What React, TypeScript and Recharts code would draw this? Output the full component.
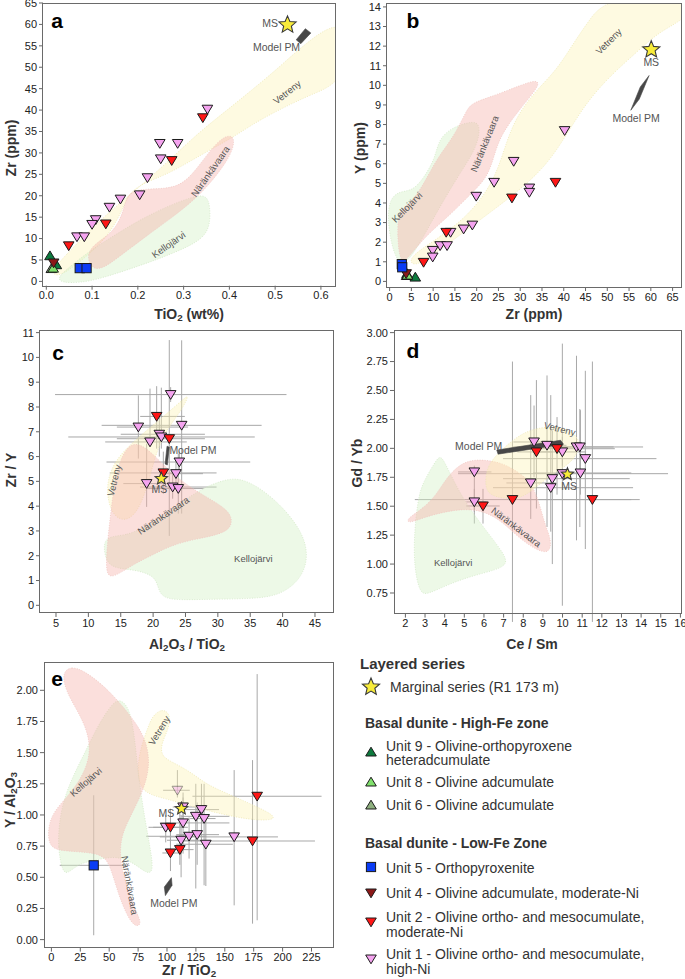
import React from 'react';
import { ScatterChart, Scatter, XAxis, YAxis, ErrorBar, Curve } from 'recharts';

type Pt = [number, number];
type Err = [number, number, number, number, number, number]; // x, y, xLow, xHigh, yLow, yHigh
type Lbl = [number, number, string, number]; // x, y, text, angle

const FONT = '"Liberation Sans", Arial, Helvetica, sans-serif';

// ---------- a : TiO2 vs Zr ----------
const aTicksX = [0, 0.1, 0.2, 0.3, 0.4, 0.5, 0.6];
const aTicksY = [0, 5, 10, 15, 20, 25, 30, 35, 40, 45, 50, 55, 60, 65];
const aUnit1: Pt[] = [[0.352, 40.2], [0.248, 32.2], [0.287, 32.2], [0.25, 28.6], [0.221, 24.2], [0.204, 20.2], [0.162, 19.2], [0.138, 17.3], [0.108, 14.4], [0.1, 13.3], [0.067, 10.4], [0.083, 10.4]];
const aUnit2: Pt[] = [[0.342, 38.2], [0.274, 28.2], [0.13, 13.4], [0.049, 8.3]];
const aUnit4: Pt[] = [[0.016, 4.3]];
const aUnit5: Pt[] = [[0.073, 3.1], [0.088, 3.1]];
const aUnit6: Pt[] = [[0.011, 3.0]];
const aUnit8: Pt[] = [[0.015, 3.1]];
const aUnit9: Pt[] = [[0.008, 6.0], [0.022, 3.9]];
const aMS: Pt[] = [[0.527, 59.9]];
const aModel: Pt[] = [[0.546, 56.4], [0.566, 59.0], [0.578, 58.0], [0.556, 55.5]];
const aKello: Pt[] = [[0.023, 0.8], [0.052, 3.5], [0.096, 7.2], [0.154, 11.1], [0.205, 14.4], [0.264, 17.5], [0.315, 19.6], [0.35, 20.4], [0.358, 17.5], [0.358, 12.8], [0.338, 9.4], [0.264, 6.0], [0.205, 3.7], [0.118, 0.6], [0.074, -0.3], [0.034, -0.3]];
const aNaran: Pt[] = [[0.098, 3.0], [0.088, 6.2], [0.105, 8.8], [0.147, 11.5], [0.168, 16.0], [0.176, 20.5], [0.205, 21.6], [0.264, 21.6], [0.299, 22.8], [0.329, 26.3], [0.358, 30.6], [0.386, 33.8], [0.41, 34.2], [0.41, 31.3], [0.391, 27.4], [0.358, 22.9], [0.322, 18.9], [0.271, 14.6], [0.22, 10.7], [0.162, 6.0], [0.122, 2.8]];
const aVetreny: Pt[] = [[0.007, 2.0], [0.045, 6.4], [0.092, 11.6], [0.14, 16.4], [0.187, 20.6], [0.235, 25.0], [0.286, 30.0], [0.336, 35.0], [0.395, 40.0], [0.453, 45.0], [0.511, 50.2], [0.57, 56.0], [0.66, 62.5], [0.66, 47.0], [0.577, 43.6], [0.519, 40.6], [0.468, 37.8], [0.424, 34.8], [0.4, 33.2], [0.366, 31.2], [0.315, 28.1], [0.264, 25.0], [0.213, 23.0], [0.18, 20.6], [0.165, 16.5], [0.143, 12.0], [0.111, 8.0], [0.067, 4.0], [0.027, 1.0]];
const aLabels: Lbl[] = [[0.526, 44.2, 'Vetreny', -38], [0.358, 25.7, 'Näränkävaara', -55], [0.267, 8.6, 'Kellojärvi', -35]];
const aNotes: Lbl[] = [[0.489, 60.2, 'MS', 0], [0.503, 54.5, 'Model PM', 0]];

// ---------- b : Zr vs Y ----------
const bTicksX = [0, 5, 10, 15, 20, 25, 30, 35, 40, 45, 50, 55, 60, 65];
const bTicksY = [0, 1, 2, 3, 4, 5, 6, 7, 8, 9, 10, 11, 12, 13, 14];
const bUnit1: Pt[] = [[40.2, 7.69], [28.5, 6.12], [24.0, 5.05], [32.1, 4.76], [32.1, 4.54], [19.9, 4.34], [19.0, 2.87], [17.0, 2.67], [14.0, 2.5], [11.6, 1.82], [13.2, 1.82], [9.9, 1.58], [9.9, 1.24]];
const bUnit2: Pt[] = [[38.1, 5.05], [28.1, 4.25], [13.0, 2.5], [7.8, 0.97]];
const bUnit4: Pt[] = [[3.8, 0.39]];
const bUnit5: Pt[] = [[2.8, 0.88], [2.9, 0.72]];
const bUnit6: Pt[] = [[3.9, 0.3]];
const bUnit8: Pt[] = [[4.1, 0.32]];
const bUnit9: Pt[] = [[5.9, 0.22], [4.0, 0.4]];
const bMS: Pt[] = [[60.1, 11.82]];
const bModel: Pt[] = [[55.4, 8.73], [57.58, 9.92], [59.6, 10.5], [57.35, 9.3]];
const bKello: Pt[] = [[2.07, 0.6], [-0.3, 2.47], [-0.4, 4.1], [2.07, 4.6], [5.13, 4.6], [7.81, 5.25], [10.49, 6.3], [11.26, 7.25], [14.32, 7.85], [18.53, 8.15], [20.9, 8.1], [20.3, 6.89], [15.47, 5.3], [10.1, 3.25], [5.51, 1.35]];
const bNaran: Pt[] = [[2.45, 0.75], [1.7, 2.47], [2.1, 3.6], [3.98, 3.85], [7.04, 4.6], [10.87, 6.3], [14.7, 7.35], [17.6, 8.7], [18.9, 9.1], [23.12, 9.4], [30.02, 10.0], [33.9, 10.3], [34.5, 10.0], [30.1, 8.85], [25.42, 7.45], [23.9, 6.3], [22.36, 5.3], [19.3, 4.6], [13.94, 3.4], [8.58, 2.38], [4.75, 1.35]];
const bVetreny: Pt[] = [[3.98, 1.2], [11.64, 2.25], [19.3, 3.6], [24.5, 5.36], [26.95, 7.23], [29.63, 8.59], [33.84, 9.78], [38.44, 10.8], [42.27, 12.16], [45.94, 13.35], [49.54, 14.4], [70, 15.2], [70, 13.6], [62.17, 12.8], [56.82, 11.7], [50.69, 10.5], [45.33, 9.15], [41.5, 7.8], [37.67, 6.45], [33.84, 5.45], [28.48, 4.42], [22.36, 3.4], [16.23, 2.38], [10.1, 1.36], [5.51, 0.7]];
const bLabels: Lbl[] = [[50.3, 12.25, 'Vetreny', -45], [21.8, 7.02, 'Näränkävaara', -68], [3.98, 3.79, 'Kellojärvi', -45]];
const bNotes: Lbl[] = [[60.1, 11.18, 'MS', 0], [56.6, 8.33, 'Model PM', 0]];

// ---------- c : Al2O3/TiO2 vs Zr/Y ----------
const cTicksX = [5, 10, 15, 20, 25, 30, 35, 40, 45];
const cTicksY = [0, 1, 2, 3, 4, 5, 6, 7, 8, 9, 10, 11];
const cUnit1: Err[] = [
  [22.71, 8.5, 4.85, 40.6, 8.2, 8.8], [24.41, 7.26, 12.05, 36.76, 3.7, 10.69], [17.72, 7.19, 14.4, 25.4, 5.92, 8.47],
  [20.96, 6.9, 15.0, 28.0, 6.0, 7.6], [21.27, 6.79, 6.9, 35.7, 6.32, 8.78], [19.52, 6.59, 12.6, 25.2, 6.39, 8.74],
  [24.05, 5.78, 12.8, 35.0, 5.3, 6.2], [23.53, 5.31, 21.3, 27.7, 4.8, 5.9], [19.0, 4.91, 15.4, 22.6, 3.97, 6.52],
  [23.02, 4.77, 17.97, 29.8, 4.3, 5.3], [23.89, 4.71, 19.0, 27.8, 3.7, 6.12],
];
const cUnit2: Err[] = [[20.55, 7.62, 18.0, 24.9, 6.32, 8.84], [22.5, 6.72, 14.4, 28.0, 2.8, 10.7], [21.58, 5.34, 13.3, 29.8, 4.5, 6.2]];
const cMS: Pt[] = [[21.27, 5.11]];
const cModel: Pt[] = [[22.15, 6.42], [22.5, 6.38], [22.2, 5.66], [21.85, 5.7]];
const cVetreny: Pt[] = [[25.6, 8.5], [24.41, 7.87], [22.35, 7.19], [20.55, 6.25], [19.52, 5.18], [17.97, 3.9], [15.91, 3.35], [13.7, 3.6], [12.7, 4.57], [13.4, 5.5], [15.3, 6.2], [18.49, 6.95], [22.09, 7.72], [24.8, 8.35]];
const cNaran: Pt[] = [[12.7, 1.1], [12.8, 2.22], [13.5, 3.83], [14.25, 5.4], [15.6, 6.25], [16.94, 6.55], [18.6, 6.42], [20.55, 5.95], [23.12, 5.28], [26.21, 4.67], [29.9, 4.13], [32.1, 3.7], [32.2, 3.15], [30.33, 2.86], [26.72, 2.68], [23.12, 2.45], [20.03, 2.05], [16.94, 1.65], [14.37, 1.2]];
const cKello: Pt[] = [[12.4, 2.8], [15.91, 2.79], [19.52, 3.26], [23.12, 3.93], [27.24, 4.67], [30.33, 5.01], [33.16, 5.17], [36.6, 4.74], [40.3, 3.9], [43.15, 2.9], [44.0, 1.95], [42.85, 1.05], [39.59, 0.4], [35.48, 0.26], [27.24, 0.24], [21.9, 0.2], [20.8, 0.6], [20.4, 1.2], [16.94, 1.45], [13.34, 1.5], [12.4, 2.08]];
const cLabels: Lbl[] = [[13.96, 5.04, 'Vetreny', -76], [21.58, 3.63, 'Näränkävaara', -34], [35.48, 1.88, 'Kellojärvi', 0]];
const cNotes: Lbl[] = [[20.96, 4.67, 'MS', 0], [26.16, 6.25, 'Model PM', 0]];

// ---------- d : Ce/Sm vs Gd/Yb ----------
const dTicksX = [2, 3, 4, 5, 6, 7, 8, 9, 10, 11, 12, 13, 14, 15, 16];
const dTicksY = [0.75, 1, 1.25, 1.5, 1.75, 2, 2.25, 2.5, 2.75, 3];
const dUnit1: Err[] = [
  [8.55, 2.055, 7.5, 9.6, 1.75, 2.37], [9.21, 2.026, 8.3, 10.2, 1.32, 2.63], [9.99, 1.969, 8.8, 11.2, 1.85, 2.1],
  [10.71, 2.012, 7.48, 14.1, 1.205, 2.8], [10.88, 2.012, 8.6, 12.6, 1.32, 2.34], [11.16, 1.911, 6.97, 14.78, 1.13, 2.67],
  [5.51, 1.796, 4.68, 6.38, 1.35, 1.85], [9.99, 1.781, 4.68, 15.37, 0.64, 2.905], [10.91, 1.787, 8.5, 13.5, 1.6, 2.33],
  [8.38, 1.701, 7.14, 9.69, 1.39, 2.46], [9.48, 1.738, 6.97, 13.42, 1.0, 2.15], [9.4, 1.66, 6.46, 13.59, 1.28, 2.46],
  [5.51, 1.537, 5.1, 6.12, 1.45, 1.65],
];
const dUnit2: Err[] = [[8.67, 1.969, 7.7, 9.5, 1.48, 2.59], [9.72, 1.997, 8.84, 12.66, 1.6, 2.27], [7.45, 1.557, 2.48, 13.93, 0.5, 2.75], [5.95, 1.502, 5.1, 6.8, 1.35, 1.65], [11.52, 1.557, 7.8, 13.5, 0.5, 2.75]];
const dMS: Pt[] = [[10.25, 1.776]];
const dModel: Pt[] = [[6.65, 1.985], [9.9, 2.07], [10.05, 2.035], [6.72, 1.95]];
const dKello: Pt[] = [[2.73, 0.74], [2.42, 1.0], [2.47, 1.32], [2.68, 1.6], [2.95, 1.72], [3.47, 1.87], [3.75, 1.94], [3.98, 1.89], [4.45, 1.72], [5.13, 1.51], [6.15, 1.28], [7.02, 1.09], [7.2, 1.0], [6.63, 0.95], [5.44, 0.9], [4.26, 0.83], [3.15, 0.74]];
const dNaran: Pt[] = [[2.05, 1.39], [2.9, 1.48], [3.58, 1.6], [4.0, 1.72], [4.6, 1.84], [5.28, 1.9], [6.12, 1.9], [6.97, 1.87], [7.7, 1.8], [8.4, 1.71], [8.82, 1.53], [9.08, 1.35], [9.45, 1.2], [9.33, 1.09], [8.67, 1.12], [7.82, 1.22], [6.97, 1.36], [6.12, 1.45], [5.11, 1.48], [3.92, 1.45], [2.9, 1.4], [2.15, 1.35]];
const dVetreny: Pt[] = [[6.05, 1.68], [6.15, 1.85], [6.8, 1.97], [7.65, 2.1], [8.5, 2.17], [9.52, 2.19], [10.4, 2.16], [10.95, 2.06], [10.68, 1.92], [10.03, 1.83], [9.18, 1.74], [8.5, 1.64], [7.82, 1.565], [6.97, 1.565], [6.25, 1.6]];
const dLabels: Lbl[] = [[9.86, 2.17, 'Vetreny', 14], [7.65, 1.32, 'Näränkävaara', 37], [4.43, 1.01, 'Kellojärvi', 0]];
const dNotes: Lbl[] = [[10.33, 1.666, 'MS', 0], [5.73, 2.012, 'Model PM', 0]];

// ---------- e : Zr/TiO2 vs Y/Al2O3 ----------
const eTicksX = [0, 25, 50, 75, 100, 125, 150, 175, 200, 225];
const eTicksY = [0, 0.25, 0.5, 0.75, 1, 1.25, 1.5, 1.75, 2];
const eUnit1: Err[] = [
  [129.8, 1.043, 112, 145, 0.8, 1.25], [124.9, 0.989, 112.5, 154, 0.41, 1.25], [132.1, 0.971, 120, 142, 0.436, 1.25],
  [113.9, 0.936, 93.8, 154, 0.69, 1.14], [98.9, 0.901, 84, 115, 0.78, 1.0], [119.1, 0.829, 82, 134, 0.65, 0.98],
  [126.1, 0.842, 108, 145, 0.6, 1.1], [112.2, 0.797, 100, 130, 0.5, 1.0], [133.6, 0.765, 108, 157, 0.43, 1.0],
  [158.1, 0.824, 93.8, 196, 0.275, 1.36], [113.9, 1.064, 105, 125, 0.95, 1.18],
];
const eUnit1Pale: Err[] = [[109, 1.198, 96.6, 119.7, 1.14, 1.36]];
const eUnit2: Err[] = [[103, 0.901, 88, 118, 0.75, 1.05], [178, 1.15, 122, 233.7, 0.155, 2.13], [174, 0.791, 111, 228, 0.128, 1.44], [103, 0.695, 96, 113, 0.55, 0.9], [111.1, 0.722, 100, 123, 0.6, 1.02]];
const eUnit5: Err[] = [[36.6, 0.596, 7.2, 64.9, 0.035, 1.158]];
const eMS: Pt[] = [[112.5, 1.051]];
const eModel: Pt[] = [[103.8, 0.497], [104.4, 0.436], [98.6, 0.353], [97.7, 0.422]];
const eNaran: Pt[] = [[10.5, 2.15], [17.3, 2.19], [27.4, 2.16], [42.5, 2.06], [58.5, 1.91], [73.2, 1.74], [82.8, 1.58], [85.2, 1.385], [79.2, 1.19], [69, 1.0], [61, 0.85], [59, 0.69], [62, 0.52], [67.8, 0.36], [73.5, 0.22], [78.5, 0.12], [72.1, 0.1], [65, 0.2], [57.8, 0.369], [52, 0.556], [46.5, 0.67], [33.2, 0.7], [13, 0.71], [-2.5, 0.73], [-3, 0.904], [2, 1.03], [15.2, 1.16], [27.8, 1.32], [34.8, 1.519], [29.2, 1.733], [16.2, 1.93], [10.5, 2.06]];
const eKello: Pt[] = [[9.5, 0.54], [5.5, 0.743], [7.0, 0.97], [12, 1.16], [19.2, 1.32], [29.5, 1.51], [41, 1.73], [53, 1.9], [59.5, 1.93], [67.5, 1.86], [72, 1.63], [75, 1.33], [80.5, 0.98], [86.5, 0.69], [88, 0.54], [82.2, 0.53], [70.7, 0.62], [56.2, 0.67], [41.8, 0.645], [24.5, 0.615], [14.4, 0.53]];
const eVetreny: Pt[] = [[88.5, 1.8], [95.2, 1.85], [102.5, 1.82], [102.3, 1.706], [94.8, 1.572], [95, 1.47], [105.3, 1.42], [119.7, 1.35], [134.1, 1.245], [151.4, 1.175], [174.5, 1.08], [198, 0.975], [183.2, 0.95], [157.2, 0.985], [128.4, 1.05], [99.5, 1.13], [81, 1.17], [74.6, 1.278], [75.2, 1.465], [81, 1.64], [85.5, 1.75]];
const eLabels: Lbl[] = [[93.2, 1.679, 'Vetreny', -59], [29.7, 1.265, 'Kellojärvi', -41], [67.8, 0.436, 'Näränkävaara', 80]];
const eNotes: Lbl[] = [[99.5, 1.011, 'MS', 0], [105.9, 0.289, 'Model PM', 0]];

// ---------- styles ----------
const MARK: Record<string, { shape: string; fill: string; op?: number }> = {
  unit1: { shape: 'down', fill: '#f4a3ef' },
  unit1pale: { shape: 'down', fill: '#f4a3ef', op: 0.45 },
  unit2: { shape: 'down', fill: '#ff1616' },
  unit4: { shape: 'down', fill: '#8c1818' },
  unit5: { shape: 'square', fill: '#0a3cf5' },
  unit6: { shape: 'up', fill: '#8fb07f' },
  unit8: { shape: 'up', fill: '#80e06c' },
  unit9: { shape: 'up', fill: '#0d7a3e' },
  ms: { shape: 'star', fill: '#f8ec3a' },
};

const FIELD: Record<string, { fill: string; op: number; stroke: string }> = {
  vet: { fill: '#fcf3b0', op: 0.38, stroke: '#ece7b4' },
  kel: { fill: '#d2f1c2', op: 0.4, stroke: '#d3e8c8' },
  nar: { fill: '#f6aea8', op: 0.4, stroke: '#f0c6c2' },
};

function starPath(cx: number, cy: number, R: number, r: number) {
  let d = '';
  for (let i = 0; i < 10; i++) {
    const rad = i % 2 ? r : R;
    const a = -Math.PI / 2 + (i * Math.PI) / 5;
    d += (i ? 'L' : 'M') + (cx + rad * Math.cos(a)).toFixed(2) + ',' + (cy + rad * Math.sin(a)).toFixed(2);
  }
  return d + 'Z';
}

function drawMarker(kind: string, cx: number, cy: number, big = false) {
  const m = MARK[kind];
  const st = { fill: m.fill, stroke: '#1a1a1a', strokeWidth: 1, opacity: m.op ?? 1 };
  if (m.shape === 'down') return <polygon points={`${cx - 5.3},${cy - 4} ${cx + 5.3},${cy - 4} ${cx},${cy + 4.8}`} {...st} />;
  if (m.shape === 'up') return <polygon points={`${cx - 5.3},${cy + 4} ${cx + 5.3},${cy + 4} ${cx},${cy - 4.8}`} {...st} />;
  if (m.shape === 'square') return <rect x={cx - 4.6} y={cy - 4.6} width={9.2} height={9.2} {...st} />;
  const R = big ? 9 : 6.5;
  return <path d={starPath(cx, cy, R, R * 0.45)} fill={m.fill} stroke="#3a3a3a" strokeWidth={1.1} />;
}

const blank = () => <g />;
const toRows = (pts: Pt[]) => pts.map(([x, y]) => ({ x, y }));
const toErrRows = (pts: Err[]) => pts.map(([x, y, xl, xh, yl, yh]) => ({ x, y, ex: [x - xl, xh - x], ey: [y - yl, yh - y] }));
const toLabels = (ls: Lbl[]) => ls.map(([x, y, text, angle]) => ({ x, y, text, angle }));

const fieldLine = (kind: string) => (lp: any) => {
  const f = FIELD[kind];
  return <Curve points={lp.points} type="basisClosed" fill={f.fill} fillOpacity={f.op} stroke={f.stroke} strokeWidth={0.8} strokeDasharray="1 1.5" />;
};
const modelLine = (lp: any) => <Curve points={lp.points} type="linearClosed" fill="#474747" stroke="#474747" strokeWidth={0.6} />;

const labelShape = (size: number, color: string) => (p: any) => {
  const d = p.payload;
  return (
    <text x={p.cx} y={p.cy} transform={d.angle ? `rotate(${d.angle} ${p.cx} ${p.cy})` : undefined} textAnchor="middle" dominantBaseline="central" fontSize={size} fill={color}>
      {d.text}
    </text>
  );
};

interface Series { kind: string; pts?: Pt[]; errs?: Err[] }
interface PanelCfg {
  id: string;
  box: [number, number, number, number];
  xDomain: [number, number]; yDomain: [number, number];
  xTicks: number[]; yTicks: number[]; xDec: number; yDec: number;
  fields: { kind: string; pts: Pt[] }[];
  model: Pt[]; labels: Lbl[]; notes: Lbl[];
  series: Series[];
  xTitle: React.ReactNode; yTitle: React.ReactNode;
  xTitleAt: [number, number]; yTitleAt: [number, number]; letterAt: [number, number];
}

const sub = (t: string) => <sub style={{ fontSize: '0.7em', verticalAlign: '-0.25em', lineHeight: 0 }}>{t}</sub>;

const PANELS: PanelCfg[] = [
  {
    id: 'a', box: [42.7, 3.3, 335, 286], xDomain: [-0.0072, 0.6314], yDomain: [-1, 65],
    xTicks: aTicksX, yTicks: aTicksY, xDec: 1, yDec: 0,
    fields: [{ kind: 'vet', pts: aVetreny }, { kind: 'kel', pts: aKello }, { kind: 'nar', pts: aNaran }],
    model: aModel, labels: aLabels, notes: aNotes,
    series: [{ kind: 'unit9', pts: aUnit9 }, { kind: 'unit6', pts: aUnit6 }, { kind: 'unit8', pts: aUnit8 }, { kind: 'unit4', pts: aUnit4 }, { kind: 'unit5', pts: aUnit5 }, { kind: 'unit1', pts: aUnit1 }, { kind: 'unit2', pts: aUnit2 }, { kind: 'ms', pts: aMS }],
    xTitle: <>TiO{sub('2')} (wt%)</>, yTitle: <>Zr (ppm)</>, xTitleAt: [189, 314], yTitleAt: [11, 148], letterAt: [57, 20],
  },
  {
    id: 'b', box: [386.7, 3.3, 681.7, 287.3], xDomain: [-0.6, 67.16], yDomain: [-0.286, 14.2],
    xTicks: bTicksX, yTicks: bTicksY, xDec: 0, yDec: 0,
    fields: [{ kind: 'vet', pts: bVetreny }, { kind: 'kel', pts: bKello }, { kind: 'nar', pts: bNaran }],
    model: bModel, labels: bLabels, notes: bNotes,
    series: [{ kind: 'unit9', pts: bUnit9 }, { kind: 'unit6', pts: bUnit6 }, { kind: 'unit8', pts: bUnit8 }, { kind: 'unit4', pts: bUnit4 }, { kind: 'unit5', pts: bUnit5 }, { kind: 'unit1', pts: bUnit1 }, { kind: 'unit2', pts: bUnit2 }, { kind: 'ms', pts: bMS }],
    xTitle: <>Zr (ppm)</>, yTitle: <>Y (ppm)</>, xTitleAt: [534, 314], yTitleAt: [360, 148], letterAt: [413, 20],
  },
  {
    id: 'c', box: [40, 330.7, 333.3, 612.7], xDomain: [2.53, 47.83], yDomain: [-0.31, 11.065],
    xTicks: cTicksX, yTicks: cTicksY, xDec: 0, yDec: 0,
    fields: [{ kind: 'vet', pts: cVetreny }, { kind: 'kel', pts: cKello }, { kind: 'nar', pts: cNaran }],
    model: cModel, labels: cLabels, notes: cNotes,
    series: [{ kind: 'unit1', errs: cUnit1 }, { kind: 'unit2', errs: cUnit2 }, { kind: 'ms', pts: cMS }],
    xTitle: <>Al{sub('2')}O{sub('3')} / TiO{sub('2')}</>, yTitle: <>Zr / Y</>, xTitleAt: [187, 644], yTitleAt: [11, 470], letterAt: [58, 352],
  },
  {
    id: 'd', box: [394.3, 330.7, 681.7, 613.3], xDomain: [1.42, 16.05], yDomain: [0.572, 3.014],
    xTicks: dTicksX, yTicks: dTicksY, xDec: 0, yDec: 2,
    fields: [{ kind: 'kel', pts: dKello }, { kind: 'nar', pts: dNaran }, { kind: 'vet', pts: dVetreny }],
    model: dModel, labels: dLabels, notes: dNotes,
    series: [{ kind: 'unit1', errs: dUnit1 }, { kind: 'unit2', errs: dUnit2 }, { kind: 'ms', pts: dMS }],
    xTitle: <>Ce / Sm</>, yTitle: <>Gd / Yb</>, xTitleAt: [532, 644], yTitleAt: [357, 463], letterAt: [413, 350],
  },
  {
    id: 'e', box: [44.3, 662.7, 333.3, 947.3], xDomain: [-6.4, 243.6], yDomain: [-0.064, 2.219],
    xTicks: eTicksX, yTicks: eTicksY, xDec: 0, yDec: 2,
    fields: [{ kind: 'vet', pts: eVetreny }, { kind: 'kel', pts: eKello }, { kind: 'nar', pts: eNaran }],
    model: eModel, labels: eLabels, notes: eNotes,
    series: [{ kind: 'unit5', errs: eUnit5 }, { kind: 'unit1pale', errs: eUnit1Pale }, { kind: 'unit1', errs: eUnit1 }, { kind: 'unit2', errs: eUnit2 }, { kind: 'ms', pts: eMS }],
    xTitle: <>Zr / TiO{sub('2')}</>, yTitle: <>Y / Al{sub('2')}O{sub('3')}</>, xTitleAt: [189, 970], yTitleAt: [10, 800], letterAt: [57, 678],
  },
];

const titleStyle: React.CSSProperties = { position: 'absolute', fontWeight: 'bold', fontSize: 14, color: '#333', whiteSpace: 'nowrap', lineHeight: 1 };

function Panel({ c }: { c: PanelCfg }) {
  const [L, T, R, B] = c.box;
  const W = R - L;
  const H = B - T;
  const big = c.id === 'a' || c.id === 'b';
  const tick = { fontSize: 11, fill: '#222' };
  return (
    <>
      <div style={{ position: 'absolute', left: L - 45, top: T - 8 }}>
        <ScatterChart width={W + 55} height={H + 33} margin={{ top: 8, right: 10, bottom: 0, left: 0 }}>
          <XAxis type="number" dataKey="x" domain={c.xDomain} ticks={c.xTicks} interval={0} allowDataOverflow height={25}
            axisLine={false} tickSize={4} tickLine={{ stroke: '#666' }} tick={tick} tickFormatter={(v: number) => v.toFixed(c.xDec)} />
          <YAxis type="number" dataKey="y" domain={c.yDomain} ticks={c.yTicks} interval={0} allowDataOverflow width={45}
            axisLine={false} tickSize={4} tickLine={{ stroke: '#666' }} tick={tick} tickFormatter={(v: number) => v.toFixed(c.yDec)} />
          {c.fields.map((f, i) => (
            <Scatter key={'f' + i} data={toRows(f.pts)} isAnimationActive={false} shape={blank} line={fieldLine(f.kind)} />
          ))}
          <Scatter data={toLabels(c.labels)} isAnimationActive={false} shape={labelShape(9.5, '#555')} />
          <Scatter data={toRows(c.model)} isAnimationActive={false} shape={blank} line={modelLine} />
          <Scatter data={toLabels(c.notes)} isAnimationActive={false} shape={labelShape(10.5, '#555')} />
          {c.series.filter((s) => s.errs).map((s, i) => (
            <Scatter key={'e' + i} data={toErrRows(s.errs!)} isAnimationActive={false} shape={blank}>
              <ErrorBar dataKey="ex" direction="x" width={0} stroke="#a8a8a8" strokeWidth={1} />
              <ErrorBar dataKey="ey" direction="y" width={0} stroke="#a8a8a8" strokeWidth={1} />
            </Scatter>
          ))}
          {c.series.map((s, i) => (
            <Scatter key={'s' + i} data={s.errs ? toErrRows(s.errs) : toRows(s.pts!)} isAnimationActive={false}
              shape={(p: any) => drawMarker(s.kind, p.cx, p.cy, big)} />
          ))}
        </ScatterChart>
      </div>
      <div style={{ position: 'absolute', left: L - 0.7, top: T - 0.7, width: W + 1.4, height: H + 1.4, border: '1.4px solid #6a6a6a', boxSizing: 'border-box', pointerEvents: 'none' }} />
      <div style={{ position: 'absolute', left: c.letterAt[0], top: c.letterAt[1], transform: 'translate(-50%,-50%)', fontWeight: 'bold', fontSize: 21, lineHeight: 1, color: '#000' }}>{c.id}</div>
      <div style={{ ...titleStyle, left: c.xTitleAt[0], top: c.xTitleAt[1], transform: 'translate(-50%,-50%)' }}>{c.xTitle}</div>
      <div style={{ ...titleStyle, left: c.yTitleAt[0], top: c.yTitleAt[1], transform: 'translate(-50%,-50%) rotate(-90deg)' }}>{c.yTitle}</div>
    </>
  );
}

function LegendMark({ kind, x, y }: { kind: string; x: number; y: number }) {
  return (
    <svg style={{ position: 'absolute', left: x - 11, top: y - 11 }} width={22} height={22}>
      {drawMarker(kind, 11, 11, true)}
    </svg>
  );
}

function LegendText({ x, y, children, bold, size = 14, lh }: { x: number; y: number; children: React.ReactNode; bold?: boolean; size?: number; lh?: number }) {
  return (
    <div style={{ position: 'absolute', left: x, top: y, transform: lh ? undefined : 'translateY(-50%)', fontSize: size, fontWeight: bold ? 'bold' : 'normal', color: '#333', whiteSpace: 'nowrap', lineHeight: lh ? `${lh}px` : 1 }}>
      {children}
    </div>
  );
}

function Legend() {
  return (
    <>
      <LegendText x={360} y={663} bold size={15}>Layered series</LegendText>
      <LegendMark kind="ms" x={371} y={687} />
      <LegendText x={390} y={687}>Marginal series (R1 173 m)</LegendText>

      <LegendText x={365} y={723} bold>Basal dunite - High-Fe zone</LegendText>
      <LegendMark kind="unit9" x={371} y={752} />
      <LegendText x={386} y={739} lh={14}>Unit 9 - Olivine-orthopyroxene<br />heteradcumulate</LegendText>
      <LegendMark kind="unit8" x={371} y={782} />
      <LegendText x={386} y={782}>Unit 8 - Olivine adcumulate</LegendText>
      <LegendMark kind="unit6" x={371} y={805} />
      <LegendText x={386} y={805}>Unit 6 - Olivine adcumulate</LegendText>

      <LegendText x={365} y={843} bold>Basal dunite - Low-Fe Zone</LegendText>
      <LegendMark kind="unit5" x={371} y={867} />
      <LegendText x={386} y={868}>Unit 5 - Orthopyroxenite</LegendText>
      <LegendMark kind="unit4" x={371} y={893} />
      <LegendText x={386} y={893}>Unit 4 - Olivine adcumulate, moderate-Ni</LegendText>
      <LegendMark kind="unit2" x={371} y={922} />
      <LegendText x={386} y={910} lh={15}>Unit 2 - Olivine ortho- and mesocumulate,<br />moderate-Ni</LegendText>
      <LegendMark kind="unit1" x={371} y={959} />
      <LegendText x={386} y={947} lh={14.5}>Unit 1 - Olivine ortho- and mesocumulate,<br />high-Ni</LegendText>
    </>
  );
}

export default function App() {
  return (
    <div style={{ position: 'absolute', left: 0, top: 0, width: 685, height: 979, overflow: 'hidden', background: '#fff', fontFamily: FONT }}>
      {PANELS.map((c) => (
        <Panel key={c.id} c={c} />
      ))}
      <Legend />
    </div>
  );
}
